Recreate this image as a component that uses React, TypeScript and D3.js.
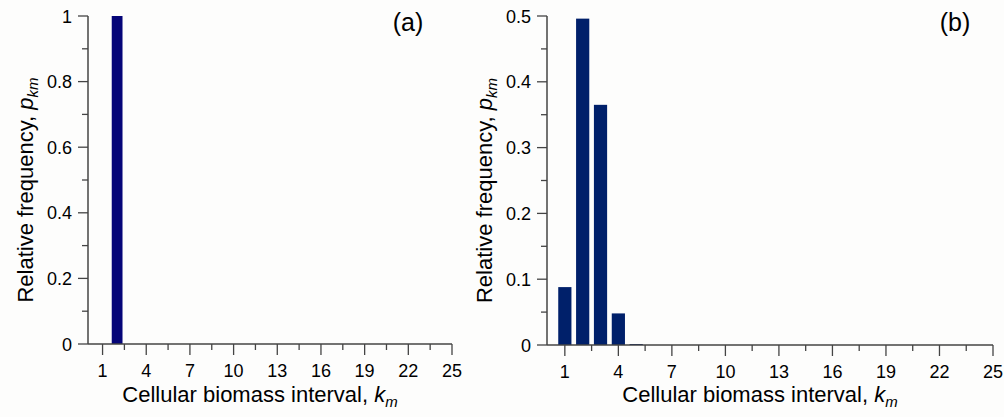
import React, { useEffect, useRef } from 'react';
import * as d3 from 'd3';

// biomass intervals k_m
const intervals = [1, 2, 3, 4, 5, 6, 7, 8, 9, 10, 11, 12, 13, 14, 15, 16, 17, 18, 19, 20, 21, 22, 23, 24, 25];

// relative frequencies
const freqA = [0, 1, 0, 0, 0, 0, 0, 0, 0, 0, 0, 0, 0, 0, 0, 0, 0, 0, 0, 0, 0, 0, 0, 0, 0];
const freqB = [0.088, 0.496, 0.365, 0.048, 0.0015, 0, 0, 0, 0, 0, 0, 0, 0, 0, 0, 0, 0, 0, 0, 0, 0, 0, 0, 0, 0];

const xMajorTicks = [1, 4, 7, 10, 13, 16, 19, 22, 25];
const xMinorTicks = [2.5, 5.5, 8.5, 11.5, 14.5, 17.5, 20.5, 23.5];

const yMajorA = [0, 0.2, 0.4, 0.6, 0.8, 1];
const yMinorA = [0.1, 0.3, 0.5, 0.7, 0.9];
const yMajorB = [0, 0.1, 0.2, 0.3, 0.4, 0.5];
const yMinorB = [0.05, 0.15, 0.25, 0.35, 0.45];

const FONT = "'Liberation Sans', Arial, sans-serif";

function drawPanel(svg, opts) {
  const { left, right, top, bottom, yMax, values, yMajor, yMinor, color, tag, tagX, yLabelX, fmt } = opts;
  const g = svg.append('g');

  const x = d3.scaleLinear().domain([0, 25]).range([left, right]);
  const y = d3.scaleLinear().domain([0, yMax]).range([bottom, top]);
  const axisColor = '#444';

  // bars
  g.selectAll('rect.bar')
    .data(intervals.map((k, i) => ({ k, v: values[i] })).filter(d => d.v > 0))
    .enter()
    .append('rect')
    .attr('x', d => x(d.k - 0.37))
    .attr('width', x(0.74) - x(0))
    .attr('y', d => y(d.v))
    .attr('height', d => Math.max(1, y(0) - y(d.v)))
    .attr('fill', color);

  // axes lines
  g.append('line')
    .attr('x1', left).attr('x2', left).attr('y1', top).attr('y2', bottom)
    .attr('stroke', axisColor).attr('stroke-width', 1.5);
  g.append('line')
    .attr('x1', left).attr('x2', right).attr('y1', bottom).attr('y2', bottom)
    .attr('stroke', axisColor).attr('stroke-width', 1.5);

  // y ticks
  g.selectAll('line.ymaj').data(yMajor).enter().append('line')
    .attr('x1', left - 10).attr('x2', left)
    .attr('y1', d => y(d)).attr('y2', d => y(d))
    .attr('stroke', axisColor).attr('stroke-width', 1.3);
  g.selectAll('line.ymin').data(yMinor).enter().append('line')
    .attr('x1', left - 6).attr('x2', left)
    .attr('y1', d => y(d)).attr('y2', d => y(d))
    .attr('stroke', axisColor).attr('stroke-width', 1.3);
  g.selectAll('text.ylab').data(yMajor).enter().append('text')
    .attr('x', left - 16).attr('y', d => y(d) + 6.5)
    .attr('text-anchor', 'end')
    .attr('font-family', FONT).attr('font-size', 18).attr('fill', '#000')
    .text(d => fmt(d));

  // x ticks
  g.selectAll('line.xmaj').data(xMajorTicks).enter().append('line')
    .attr('x1', d => x(d)).attr('x2', d => x(d))
    .attr('y1', bottom).attr('y2', bottom + 11)
    .attr('stroke', axisColor).attr('stroke-width', 1.3);
  g.selectAll('line.xmin').data(xMinorTicks).enter().append('line')
    .attr('x1', d => x(d)).attr('x2', d => x(d))
    .attr('y1', bottom).attr('y2', bottom + 6)
    .attr('stroke', axisColor).attr('stroke-width', 1.3);
  g.selectAll('text.xlab').data(xMajorTicks).enter().append('text')
    .attr('x', d => x(d)).attr('y', bottom + 33)
    .attr('text-anchor', 'middle')
    .attr('font-family', FONT).attr('font-size', 18).attr('fill', '#000')
    .text(d => d);

  // x title
  const xt = g.append('text')
    .attr('x', (left + right) / 2 - 10).attr('y', 402)
    .attr('text-anchor', 'middle')
    .attr('font-family', FONT).attr('font-size', 22).attr('fill', '#000');
  xt.append('tspan').text('Cellular biomass interval, ');
  xt.append('tspan').attr('font-style', 'italic').text('k');
  xt.append('tspan').attr('font-style', 'italic').attr('font-size', 15).attr('dy', 5).text('m');

  // y title
  const yt = g.append('text')
    .attr('transform', `translate(${yLabelX},${(top + bottom) / 2 + 10}) rotate(-90)`)
    .attr('text-anchor', 'middle')
    .attr('font-family', FONT).attr('font-size', 22).attr('fill', '#000');
  yt.append('tspan').text('Relative frequency, ');
  yt.append('tspan').attr('font-style', 'italic').text('p');
  yt.append('tspan').attr('font-style', 'italic').attr('font-size', 15).attr('dy', 5).text('km');

  // panel tag
  g.append('text')
    .attr('x', tagX).attr('y', 31)
    .attr('text-anchor', 'middle')
    .attr('font-family', FONT).attr('font-size', 25).attr('fill', '#000')
    .text(tag);
}

export default function App() {
  const svgRef = useRef(null);

  useEffect(() => {
    const svg = d3.select(svgRef.current);
    svg.selectAll('*').remove();

    svg.append('rect').attr('width', 1004).attr('height', 417).attr('fill', '#fdfdfc');

    drawPanel(svg, {
      left: 88, right: 452, top: 16, bottom: 344, yMax: 1,
      values: freqA, yMajor: yMajorA, yMinor: yMinorA,
      color: '#050578', tag: '(a)', tagX: 408, yLabelX: 33,
      fmt: d => (d === 0 || d === 1 ? String(d) : d.toFixed(1)),
    });

    drawPanel(svg, {
      left: 547, right: 993, top: 16, bottom: 345, yMax: 0.5,
      values: freqB, yMajor: yMajorB, yMinor: yMinorB,
      color: '#00206a', tag: '(b)', tagX: 955, yLabelX: 492,
      fmt: d => (d === 0 ? '0' : d.toFixed(1)),
    });
  }, []);

  return (
    <div style={{ position: 'absolute', left: 0, top: 0 }}>
      <svg ref={svgRef} width={1004} height={417} style={{ display: 'block' }}></svg>
    </div>
  );
}
